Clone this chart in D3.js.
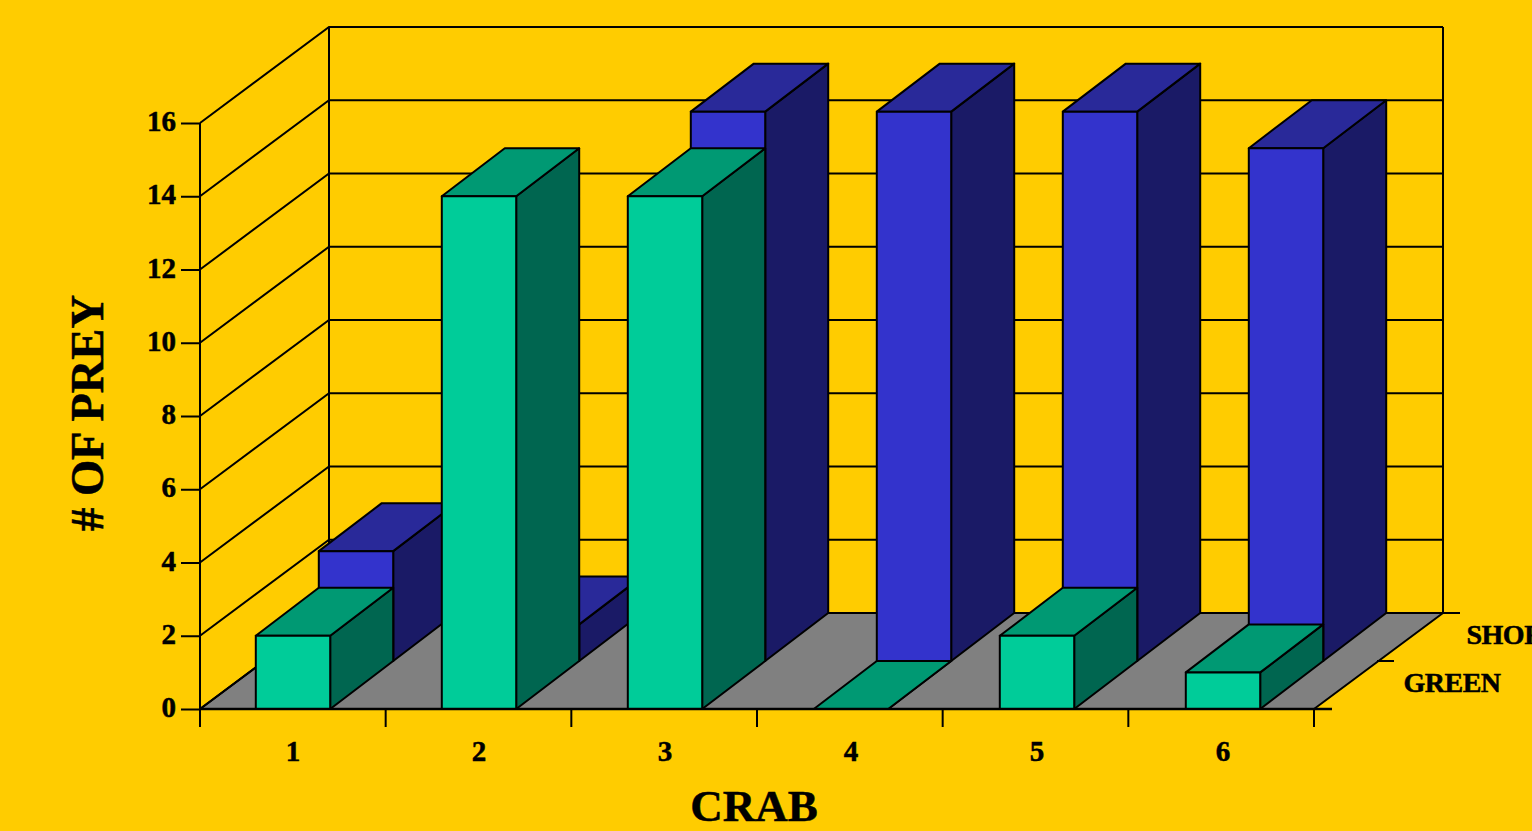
<!DOCTYPE html>
<html>
<head>
<meta charset="utf-8">
<title>Number of prey per crab</title>
<script src="https://cdnjs.cloudflare.com/ajax/libs/d3/7.8.5/d3.min.js"></script>
<style>
  html, body { margin: 0; padding: 0; background: #FFCC00; overflow: hidden; }
  svg { display: block; }
  text { font-family: "Liberation Serif", "Times New Roman", serif; font-weight: bold; fill: #000; stroke: #000; stroke-width: 0.5px; }
</style>
</head>
<body>
<svg id="chart" width="1532" height="831"></svg>
<script>
// Data
const crabs = ["1", "2", "3", "4", "5", "6"];
const seriesNames = ["GREEN", "SHORE"];
const greenPrey = [2, 14, 14, 0, 2, 1];
const shorePrey = [3, 1, 15, 15, 15, 14];
const yTicks = [0, 2, 4, 6, 8, 10, 12, 14, 16];

// Palette: front, top and side faces of each series
const greenFaces = { front: "#00CC99", top: "#009973", side: "#006650" };
const shoreFaces = { front: "#3333CC", top: "#292999", side: "#1A1A66" };

// Front plane scales
const xLeft = 200;
const xRight = 1314;
const x = d3.scaleBand().domain(crabs).range([xLeft, 1316]).paddingInner(0.6).paddingOuter(0.3);
const xTick = d3.scaleLinear().domain([0, crabs.length]).range([xLeft, xRight]);
const y = d3.scaleLinear().domain([0, 16]).range([709, 123]);

// Oblique projection of the depth axis: row 0 spans 0-1, row 1 spans 1-2,
// and the back wall sits just behind the last row.
const wallDepth = 2.05;
const depthStops = [0, 1, 2, wallDepth];
const depthX = d3.scaleLinear().domain(depthStops).range([0, 63, 126, 129]);
const depthY = d3.scaleLinear().domain(depthStops).range([0, -48, -96, -96]);

const xEdges = d3.range(crabs.length + 1).map(i => xTick(i));

// Projects a point (front-plane x, value, depth) to the page
const project = (px, v, d) => [px + depthX(d), y(v) + depthY(d)];
const line = d3.line();
const closed = pts => line(pts) + "Z";

const svg = d3.select("#chart");
svg.append("rect").attr("width", 1532).attr("height", 831).attr("fill", "#FFCC00");

const lineWidth = 2;

// Floor
svg.append("path")
  .attr("d", closed([project(xLeft, 0, 0), project(xRight, 0, 0), project(xRight, 0, wallDepth), project(xLeft, 0, wallDepth)]))
  .attr("fill", "#808080").attr("stroke", "#000").attr("stroke-width", lineWidth).attr("stroke-linejoin", "round");

// Walls: gridlines on the side and back planes
const walls = svg.append("g").attr("fill", "none").attr("stroke", "#000").attr("stroke-width", lineWidth);
walls.selectAll("path.grid").data(yTicks).join("path").attr("class", "grid")
  .attr("d", v => line([project(xLeft, v, 0), project(xLeft, v, wallDepth), project(xRight, v, wallDepth)]));
walls.append("path").attr("d", line([project(xLeft, 0, 0), project(xLeft, 16, 0)]));
walls.append("path").attr("d", line([project(xLeft, 0, wallDepth), project(xLeft, 16, wallDepth)]));
walls.append("path").attr("d", line([project(xRight, 0, wallDepth), project(xRight, 16, wallDepth)]));

// Draws one row of prisms occupying the depth span [d0, d1]
function drawRow(values, faces, d0, d1, name) {
  const g = svg.append("g").attr("class", name)
    .attr("stroke", "#000").attr("stroke-width", lineWidth).attr("stroke-linejoin", "round");
  const prisms = g.selectAll("g").data(values.map((v, i) => ({ crab: crabs[i], v }))).join("g");
  const xa = d => x(d.crab);
  const xb = d => x(d.crab) + x.bandwidth();
  prisms.append("path").attr("fill", faces.side).attr("d", d => closed([
    project(xb(d), 0, d0), project(xb(d), d.v, d0), project(xb(d), d.v, d1), project(xb(d), 0, d1)
  ]));
  prisms.append("path").attr("fill", faces.top).attr("d", d => closed([
    project(xa(d), d.v, d0), project(xb(d), d.v, d0), project(xb(d), d.v, d1), project(xa(d), d.v, d1)
  ]));
  prisms.append("path").attr("fill", faces.front).attr("d", d => closed([
    project(xa(d), 0, d0), project(xb(d), 0, d0), project(xb(d), d.v, d0), project(xa(d), d.v, d0)
  ]));
}

// Back row first so the front row overlaps it
drawRow(shorePrey, shoreFaces, 1, 2, "shore");
drawRow(greenPrey, greenFaces, 0, 1, "green");

// Value axis
const yAxis = svg.append("g").attr("transform", `translate(${xLeft},0)`)
  .call(d3.axisLeft(y).tickValues(yTicks).tickSize(19).tickPadding(5).tickFormat(d3.format("d")));
yAxis.select(".domain").remove();
yAxis.selectAll("line").attr("stroke", "#000").attr("stroke-width", lineWidth);
yAxis.selectAll("text").style("font-size", "29px").attr("fill", "#000").attr("dy", "0.26em");

// Category axis: labels centred on bands, ticks on the band edges
svg.append("path")
  .attr("d", line([project(xLeft, 0, 0), [1332, y(0)]]))
  .attr("stroke", "#000").attr("stroke-width", 2.4).attr("fill", "none");
svg.append("g").selectAll("line").data(xEdges).join("line")
  .attr("x1", d => d).attr("x2", d => d).attr("y1", y(0)).attr("y2", y(0) + 18)
  .attr("stroke", "#000").attr("stroke-width", lineWidth);
const xAxis = svg.append("g").attr("transform", `translate(0,${y(0)})`)
  .call(d3.axisBottom(x).tickSize(0).tickPadding(31));
xAxis.select(".domain").remove();
xAxis.selectAll("text").style("font-size", "29px").attr("fill", "#000");

// Series axis along the right floor edge
const seriesTicks = svg.append("g").attr("stroke", "#000").attr("stroke-width", lineWidth);
seriesTicks.selectAll("line").data([1, wallDepth]).join("line")
  .attr("x1", d => project(xRight, 0, d)[0]).attr("y1", d => project(xRight, 0, d)[1])
  .attr("x2", d => project(xRight, 0, d)[0] + 17).attr("y2", d => project(xRight, 0, d)[1]);
svg.selectAll("text.series").data(seriesNames).join("text").attr("class", "series")
  .attr("x", (d, i) => project(xRight, 0, i + 0.5)[0] + 58)
  .attr("y", (d, i) => project(xRight, 0, i + 0.5)[1] + 7)
  .style("font-size", "28px").style("letter-spacing", "-0.5px")
  .text(d => d);

// Axis titles
svg.append("text").attr("x", 754).attr("y", 821).attr("text-anchor", "middle")
  .style("font-size", "45px").text("CRAB");
svg.append("text").attr("transform", "translate(103,413) rotate(-90)").attr("text-anchor", "middle")
  .style("font-size", "46.5px").text("# OF PREY");
</script>
</body>
</html>
